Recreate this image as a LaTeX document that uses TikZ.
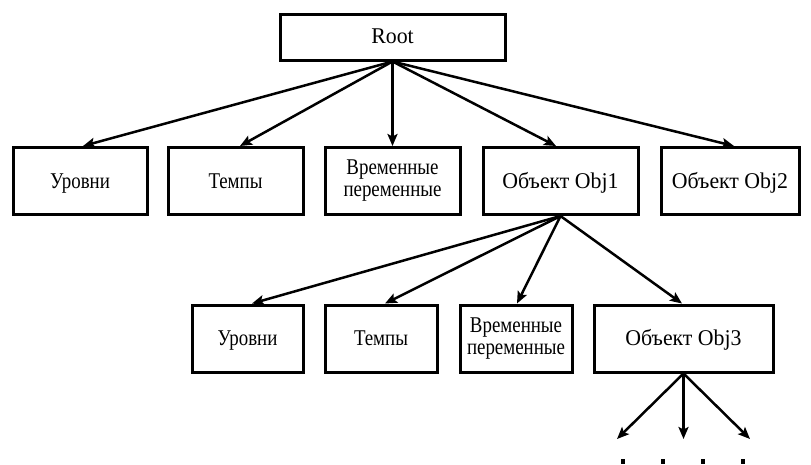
\documentclass[tikz,border=0pt]{standalone}
\usepackage{fontspec}
\setmainfont[FakeStretch=0.97]{Liberation Serif}
\newfontfamily\narrowfont[FakeStretch=0.84]{Liberation Serif}
\usetikzlibrary{arrows.meta}
\begin{document}
\begin{tikzpicture}[x=1pt,y=-1pt,
  box/.style={draw, line width=3pt, inner sep=0pt, align=center,
    font=\fontsize{22.5}{22}\selectfont},
  narrow/.style={font=\fontsize{22.5}{22}\selectfont\narrowfont},
  one/.style={text height=17pt, text depth=3pt},
  conn/.style={line width=2.5pt, -{Stealth[length=12pt,width=10pt,inset=2.5pt]}}]
\useasboundingbox (0,0) rectangle (811,464);
\node[box, minimum width=225pt, minimum height=46pt, text height=16pt, text depth=4pt] (root) at (392.5,37) {Root};
\node[box, narrow, one, minimum width=134pt, minimum height=67pt] (u1) at (80,181) {Уровни};
\node[box, narrow, one, minimum width=135pt, minimum height=67pt] (t1) at (235.5,181) {Темпы};
\node[box, narrow, minimum width=135pt, minimum height=67pt] (v1) at (392.5,181) {Временные\\переменные};
\node[box, one, minimum width=155pt, minimum height=67pt] (o1) at (560.5,181) {Объект Obj1};
\node[box, one, minimum width=138pt, minimum height=67pt] (o2) at (730,181) {Объект Obj2};
\node[box, narrow, one, minimum width=111pt, minimum height=67pt] (u2) at (247.5,338.5) {Уровни};
\node[box, narrow, one, minimum width=112pt, minimum height=67pt] (t2) at (381,338.5) {Темпы};
\node[box, narrow, minimum width=112pt, minimum height=67pt] (v2) at (516,338.5) {Временные\\переменные};
\node[box, one, minimum width=179pt, minimum height=67pt] (o3) at (683.5,338.5) {Объект Obj3};
\coordinate (e1) at (617,439);
\coordinate (e2) at (683.5,439);
\coordinate (e3) at (750,439);
\draw[conn] (root.south) -- ([xshift=3pt]u1.north);
\draw[conn] (root.south) -- ([xshift=4.5pt]t1.north);
\draw[conn] (root.south) -- (v1.north);
\draw[conn] (root.south) -- ([xshift=-4.5pt]o1.north);
\draw[conn] (root.south) -- ([xshift=4pt]o2.north);
\draw[conn] (o1.south) -- ([xshift=4.5pt]u2.north);
\draw[conn] (o1.south) -- ([xshift=4pt]t2.north);
\draw[conn] (o1.south) -- ([xshift=1pt]v2.north);
\draw[conn] (o1.south) -- ([xshift=-1.5pt]o3.north);
\draw[conn] (o3.south) -- (e1);
\draw[conn] (o3.south) -- (e2);
\draw[conn] (o3.south) -- (e3);
\foreach \xx in {623,663,703,743}
  \fill (\xx-1.8,459) rectangle (\xx+1.8,464);
\end{tikzpicture}
\end{document}
